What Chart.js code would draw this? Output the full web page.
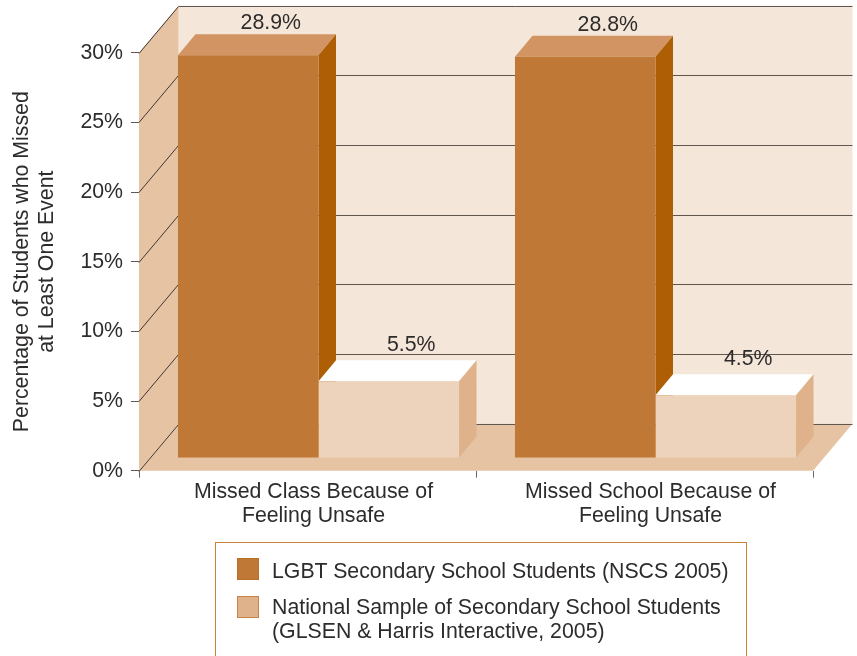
<!DOCTYPE html>
<html>
<head>
<meta charset="utf-8">
<script src="https://cdn.jsdelivr.net/npm/chart.js@4"></script>
<style>
    html, body { margin: 0; padding: 0; background: #fff; overflow: hidden; }
    #wrap { position: relative; width: 857px; height: 656px; overflow: hidden; font-family: "Liberation Sans", sans-serif; color: #2e2b2b; }
    #legend { position: absolute; left: 215px; top: 542px; width: 530px; height: 130px; border: 1px solid #c8833b; }
    .item { position: absolute; left: 56px; font-size: 21.3px; line-height: 24px; white-space: nowrap; }
    .swatch { position: absolute; left: 21px; width: 20px; height: 20px; border: 1px solid; }
</style>
</head>
<body>
<div id="wrap">
    <canvas id="barChart" width="857" height="656"></canvas>
    <div id="legend"></div>
</div>
<script>
const categories = [
    ['Missed Class Because of', 'Feeling Unsafe'],
    ['Missed School Because of', 'Feeling Unsafe']
];
const lgbtValues = [28.9, 28.8];
const nationalValues = [5.5, 4.5];
const lgbtLabel = ['LGBT Secondary School Students (NSCS 2005)'];
const nationalLabel = ['National Sample of Secondary School Students', '(GLSEN & Harris Interactive, 2005)'];
const yTitle = ['Percentage of Students who Missed', 'at Least One Event'];

// depth of the box and of the bars, in pixels
const wallDx = 39.5, wallDy = 47;
const barDx = 17.5, barDy = 21;
const barShiftX = 11, barShiftY = -12.7;

function poly(ctx, pts, color) {
    ctx.fillStyle = color;
    ctx.beginPath();
    pts.forEach((p, i) => i ? ctx.lineTo(p[0], p[1]) : ctx.moveTo(p[0], p[1]));
    ctx.closePath();
    ctx.fill();
}

function line(ctx, x1, y1, x2, y2, color) {
    ctx.strokeStyle = color;
    ctx.lineWidth = 1;
    ctx.beginPath();
    ctx.moveTo(x1, y1);
    ctx.lineTo(x2, y2);
    ctx.stroke();
}

/* Walls, floor and the 3D faces of the bars */
const box3d = {
    id: 'box3d',
    beforeDraw(chart) {
        let ctx = chart.ctx;
        let a = chart.chartArea;
        let y = chart.scales.y;
        ctx.save();
        poly(ctx, [[a.left + wallDx, a.top - wallDy], [a.right + wallDx, a.top - wallDy], [a.right + wallDx, a.bottom - wallDy], [a.left + wallDx, a.bottom - wallDy]], '#f5e6da');
        poly(ctx, [[a.left, a.top], [a.left + wallDx, a.top - wallDy], [a.left + wallDx, a.bottom - wallDy], [a.left, a.bottom]], '#e6c3a3');
        poly(ctx, [[a.left, a.bottom], [a.right, a.bottom], [a.right + wallDx, a.bottom - wallDy], [a.left + wallDx, a.bottom - wallDy]], '#e6c3a3');
        y.ticks.forEach((t) => {
            let py = Math.round(y.getPixelForValue(t.value)) + 0.5;
            line(ctx, a.left, py, a.left + wallDx, py - wallDy, '#3d3835');
            line(ctx, a.left + wallDx, py - wallDy, a.right + wallDx, py - wallDy, '#5f5650');
        });
        ctx.restore();
    },
    beforeDatasetsDraw(chart) {
        let ctx = chart.ctx;
        ctx.save();
        ctx.translate(barShiftX, barShiftY);
        chart.data.datasets.forEach((ds, d) => {
            chart.getDatasetMeta(d).data.forEach((bar) => {
                let l = bar.x - bar.width / 2;
                let r = bar.x + bar.width / 2;
                poly(ctx, [[l, bar.y], [r, bar.y], [r + barDx, bar.y - barDy], [l + barDx, bar.y - barDy]], ds.topColor);
                poly(ctx, [[r, bar.y], [r + barDx, bar.y - barDy], [r + barDx, bar.base - barDy], [r, bar.base]], ds.sideColor);
            });
        });
    },
    afterDatasetsDraw(chart) {
        let ctx = chart.ctx;
        ctx.fillStyle = '#2e2b2b';
        ctx.font = '21.3px "Liberation Sans"';
        ctx.textAlign = 'center';
        ctx.textBaseline = 'alphabetic';
        chart.data.datasets.forEach((ds, d) => {
            chart.getDatasetMeta(d).data.forEach((bar, i) => {
                ctx.fillText(ds.data[i].toFixed(1) + '%', bar.x + ds.labelDx, bar.y - barDy - ds.labelGap);
            });
        });
        ctx.restore();
    }
};

var ctx = document.getElementById('barChart').getContext('2d');
var chart = new Chart(ctx, {
    type: 'bar',
    plugins: [box3d],
    data: {
        labels: categories,
        datasets: [{
            label: lgbtLabel,
            data: lgbtValues,
            backgroundColor: '#bf7835',
            sideColor: '#ae5f05',
            topColor: '#d19462',
            labelDx: 22.5,
            labelGap: 5,
            clip: false
        }, {
            label: nationalLabel,
            data: nationalValues,
            backgroundColor: '#eed3bc',
            sideColor: '#dfb28c',
            topColor: '#ffffff',
            labelDx: 22.5,
            labelGap: 9,
            clip: false
        }]
    },
    options: {
        responsive: false,
        animation: false,
        layout: { padding: { top: 52.7, right: 44, left: 0, bottom: 0 } },
        datasets: { bar: { categoryPercentage: 0.834, barPercentage: 1, borderWidth: 0 } },
        plugins: { legend: { display: false }, tooltip: { enabled: false } },
        scales: {
            x: {
                afterFit: (s) => { s.height = 185.3; },
                border: { display: false },
                grid: { drawOnChartArea: false, tickLength: 7, color: '#6f6660' },
                ticks: {
                    color: '#2e2b2b',
                    font: { family: 'Liberation Sans', size: 21.3, lineHeight: 1.13 },
                    labelOffset: 6,
                    padding: 2,
                    maxRotation: 0
                }
            },
            y: {
                min: 0,
                max: 30,
                afterFit: (s) => { s.width = 139; },
                border: { display: false },
                grid: { drawOnChartArea: false, tickLength: 8, color: '#5f5650' },
                ticks: {
                    stepSize: 5,
                    color: '#2e2b2b',
                    font: { family: 'Liberation Sans', size: 21.3 },
                    padding: 8,
                    callback: (v) => v + '%'
                },
                title: {
                    display: true,
                    text: yTitle,
                    color: '#2e2b2b',
                    font: { family: 'Liberation Sans', size: 21.3 },
                    padding: { top: 9, bottom: 0 }
                }
            }
        }
    }
});

/* Legend */
var legend = document.getElementById('legend');
[[lgbtLabel, '#bf7835', '#b86f2a', 15, 16], [nationalLabel, '#dfb28c', '#c9843f', 53, 52]].forEach((row) => {
    let swatch = document.createElement('div');
    swatch.className = 'swatch';
    swatch.style.top = row[3] + 'px';
    swatch.style.background = row[1];
    swatch.style.borderColor = row[2];
    legend.appendChild(swatch);
    let item = document.createElement('div');
    item.className = 'item';
    item.style.top = row[4] + 'px';
    row[0].forEach((text) => {
        let l = document.createElement('div');
        l.textContent = text;
        item.appendChild(l);
    });
    legend.appendChild(item);
});
</script>
</body>
</html>
